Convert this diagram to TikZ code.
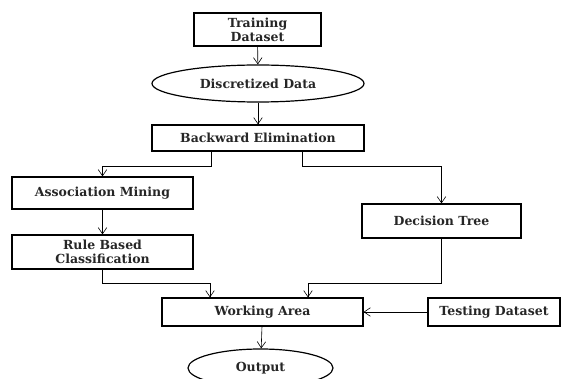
\documentclass[tikz,border=0pt]{standalone}
\usepackage{fontspec}
\setmainfont{DejaVu Serif}
\usetikzlibrary{shapes.geometric, arrows.meta}
\tikzset{
    box/.style={draw, very thick, rectangle, inner sep=1pt, align=center, text=black!85, font=\bfseries\fontsize{12.5}{14}\selectfont},
    oval/.style={draw, very thick, ellipse, inner sep=1pt, text=black!85, font=\bfseries\fontsize{12.5}{14}\selectfont},
    link/.style={draw, semithick, -{Straight Barb[length=2.2mm,width=3mm]}}
}

\begin{document}
\begin{tikzpicture}[x=1pt, y=-1pt]
    \useasboundingbox (0,0) rectangle (561,379);
    \node[box, minimum width=127pt, minimum height=33pt] (train) at (257.5,29.5) {Training\\Dataset};
    \node[oval, minimum width=212pt, minimum height=37pt] (discrete) at (258,83.5) {Discretized Data};
    \node[box, minimum width=212pt, minimum height=26pt] (backward) at (258,138) {Backward Elimination};
    \node[box, minimum width=181pt, minimum height=32pt] (assoc) at (102.5,193) {Association Mining};
    \node[box, minimum width=181pt, minimum height=34pt] (rule) at (102.5,252) {Rule Based\\Classification};
    \node[box, minimum width=159pt, minimum height=34pt] (tree) at (441.5,221) {Decision Tree};
    \node[box, minimum width=201pt, minimum height=28pt] (work) at (262.5,312) {Working Area};
    \node[box, minimum width=132pt, minimum height=28pt] (test) at (494,312) {Testing Dataset};
    \node[oval, minimum width=145pt, minimum height=38pt] (output) at (260.5,368) {Output};

    \draw[link] (train) -- (discrete);
    \draw[link] (discrete) -- (backward);
    \draw[link] ([xshift=-47pt]backward.south) -- ++(0,15) -| (assoc.north);
    \draw[link] ([xshift=44pt]backward.south) -- ++(0,15) -| (tree.north);
    \draw[link] (assoc) -- (rule);
    \draw[link] (rule.south) -- ++(0,14) -| ([xshift=-52.5pt]work.north);
    \draw[link] (tree.south) -- ++(0,45) -| ([xshift=45.5pt]work.north);
    \draw[link] (test) -- (work);
    \draw[link] (work) -- (output);
\end{tikzpicture}
\end{document}
